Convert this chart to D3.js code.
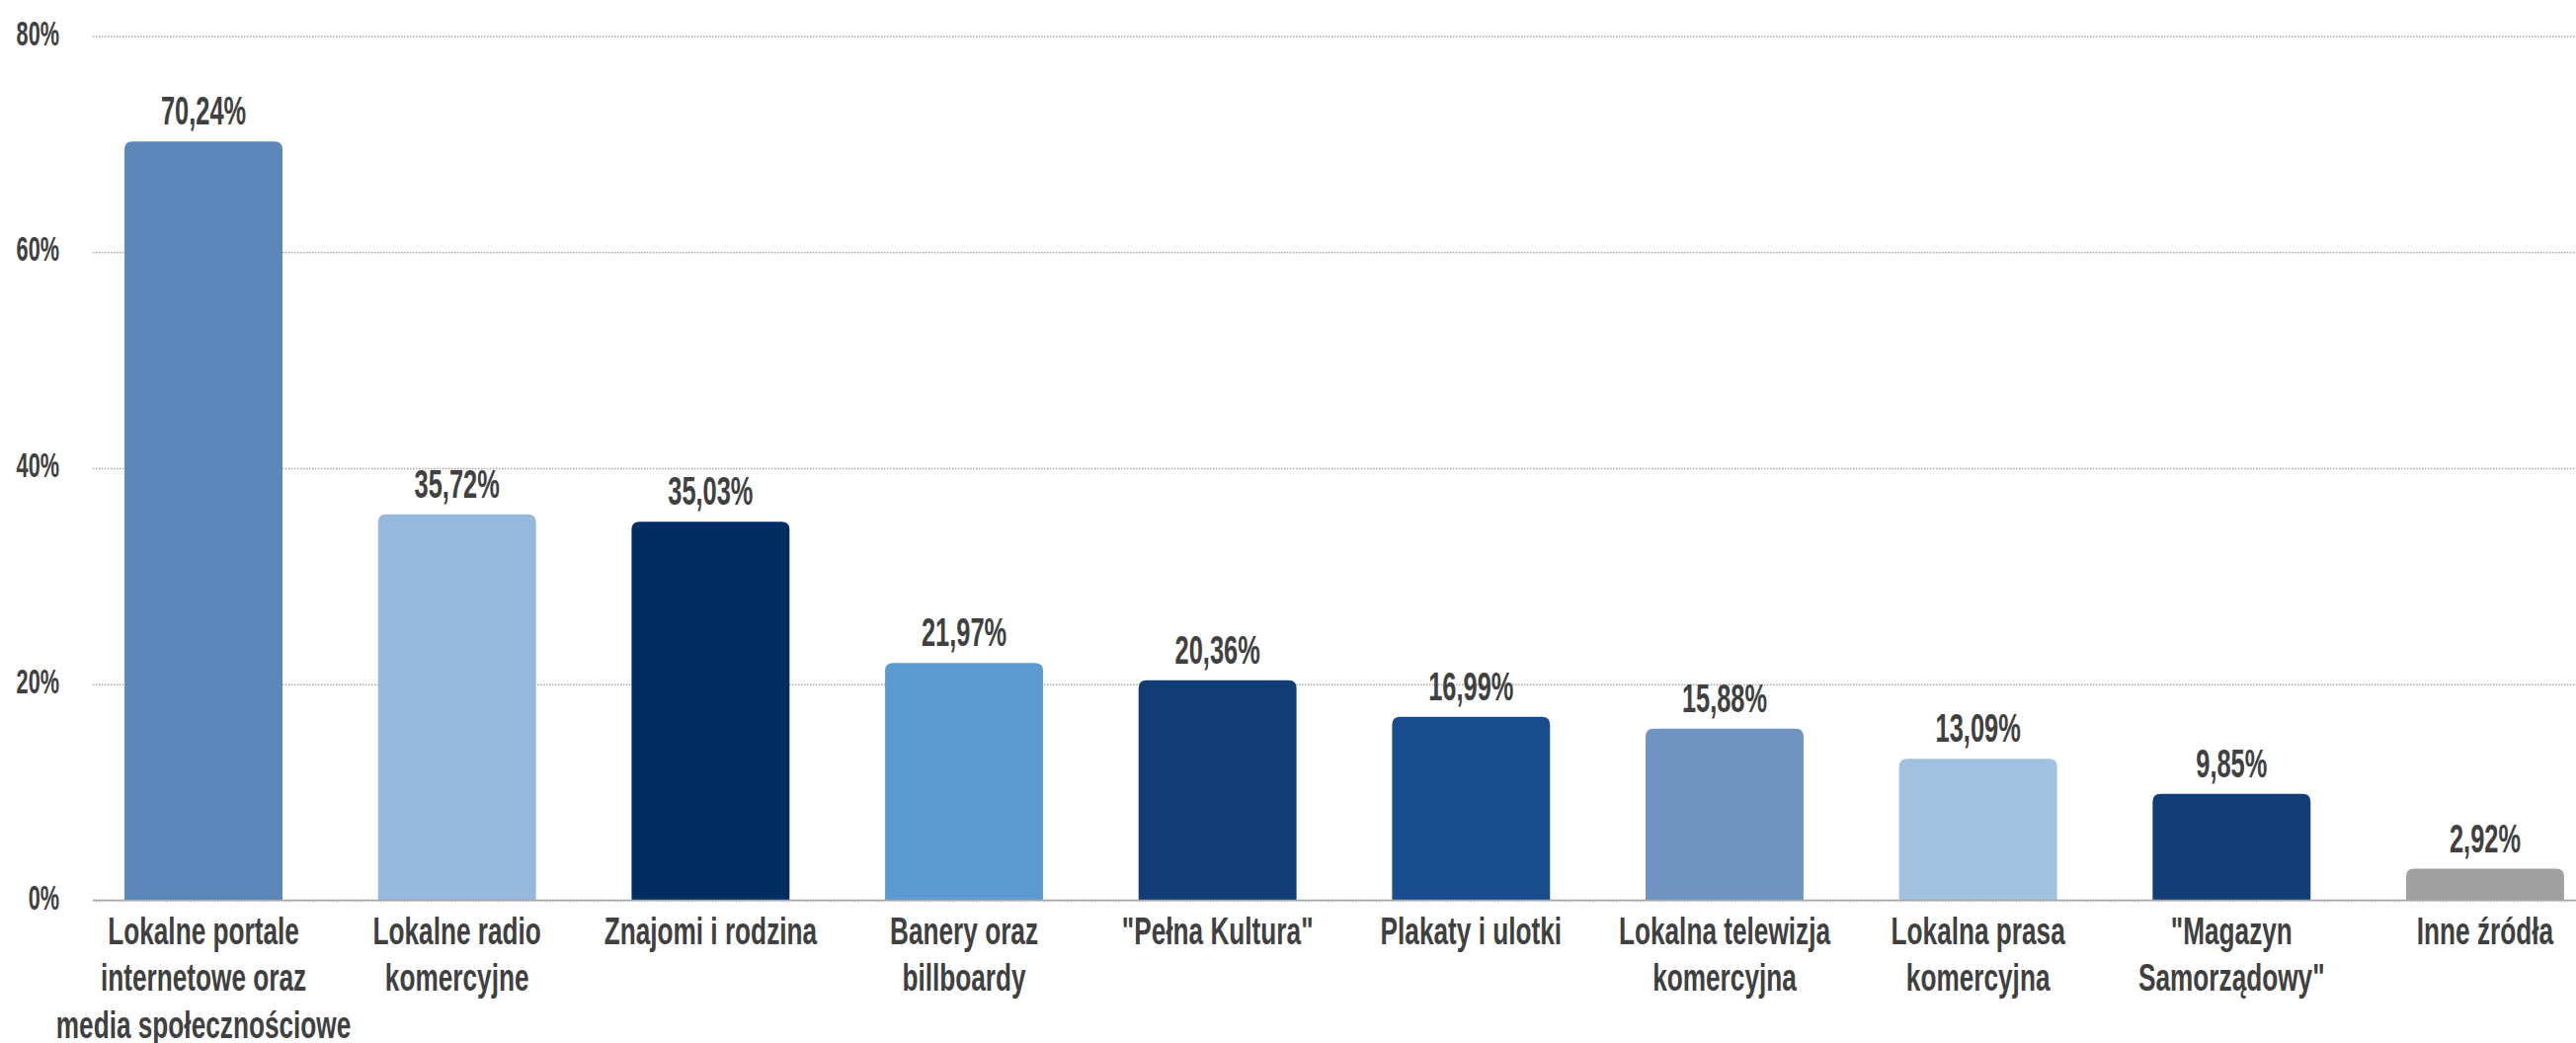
<!DOCTYPE html>
<html>
<head>
<meta charset="utf-8">
<script src="https://cdn.jsdelivr.net/npm/d3@7"></script>
<style>
  html, body { margin: 0; padding: 0; background: #ffffff; }
  svg { display: block; }
</style>
</head>
<body>
<svg id="chart" width="2608" height="1056"></svg>
<script>
// Sources of information about local events (share of respondents)
const categories = [
  "Lokalne portale\ninternetowe oraz\nmedia społecznościowe",
  "Lokalne radio\nkomercyjne",
  "Znajomi i rodzina",
  "Banery oraz\nbillboardy",
  "\"Pełna Kultura\"",
  "Plakaty i ulotki",
  "Lokalna telewizja\nkomercyjna",
  "Lokalna prasa\nkomercyjna",
  "\"Magazyn\nSamorządowy\"",
  "Inne źródła"
];
const values = [70.24, 35.72, 35.03, 21.97, 20.36, 16.99, 15.88, 13.09, 9.85, 2.92];
const barColors = ["#5b87ba", "#95b8dc", "#002e63", "#5b9bd2", "#123d74",
                   "#174d8e", "#6f94c2", "#a0c2e0", "#133d75", "#a0a0a0"];
const yTicks = [0, 20, 40, 60, 80];

const W = 2608, H = 1056;
const svg = d3.select("#chart");
const textColor = "#404040";

// Pick a narrow font if available and set the horizontal condensing accordingly
function measure(family) {
  const t = svg.append("text").attr("font-family", family).attr("font-size", 100)
    .attr("font-weight", "bold").text("abcdefghijklmnop");
  const w = t.node().getComputedTextLength();
  t.remove();
  return w;
}
const narrowOK = Math.abs(measure('"Liberation Sans Narrow", monospace') - measure("monospace")) > 1;
const FONT = narrowOK ? '"Liberation Sans Narrow", "Liberation Sans", sans-serif'
                      : '"Liberation Sans", Arial, sans-serif';
const kNum = narrowOK ? 0.76 : 0.62;
const kTxt = narrowOK ? 0.84 : 0.69;

const plotLeft = 94, baseY = 911.5, topY = 36.5;

const x = d3.scaleBand()
  .domain(categories)
  .range([77.7, 2644.3])
  .paddingInner(0.377)
  .paddingOuter(0.1885);

const y = d3.scaleLinear().domain([0, 80]).range([baseY, topY]);

// Y axis with dotted gridlines
const yAxis = svg.append("g")
  .attr("transform", `translate(${plotLeft},0)`)
  .call(d3.axisLeft(y).tickValues(yTicks).tickSize(-(W - plotLeft)).tickFormat(d => d + "%"));
yAxis.select(".domain").remove();
yAxis.selectAll(".tick line")
  .attr("stroke", "#a8a8a8")
  .attr("stroke-width", 1.5)
  .attr("stroke-dasharray", "1.5,1.5");
yAxis.selectAll(".tick text")
  .attr("x", 0).attr("dy", null).attr("y", 8.5)
  .attr("transform", `translate(-34,0) scale(${kNum},1)`)
  .attr("text-anchor", "end")
  .attr("font-family", FONT).attr("font-weight", "bold").attr("font-size", 35)
  .attr("fill", textColor);

// Bars with rounded top corners
const r = 8;
function barPath(x0, w, yTop, yBottom) {
  const rr = Math.min(r, (yBottom - yTop), w / 2);
  return `M${x0},${yBottom}V${yTop + rr}Q${x0},${yTop} ${x0 + rr},${yTop}` +
         `H${x0 + w - rr}Q${x0 + w},${yTop} ${x0 + w},${yTop + rr}V${yBottom}Z`;
}
svg.append("g").selectAll("path")
  .data(values)
  .join("path")
  .attr("d", (v, i) => barPath(x(categories[i]), x.bandwidth(), y(v), y(0)))
  .attr("fill", (v, i) => barColors[i]);

// Value labels
const fmt = v => d3.format(".2f")(v).replace(".", ",") + "%";
svg.append("g").selectAll("text")
  .data(values)
  .join("text")
  .attr("transform", (v, i) => `translate(${x(categories[i]) + x.bandwidth() / 2},${y(v) - 17}) scale(${kNum},1)`)
  .attr("text-anchor", "middle")
  .attr("font-family", FONT).attr("font-weight", "bold").attr("font-size", 41)
  .attr("fill", textColor)
  .text(fmt);

// Category axis
const xAxis = svg.append("g")
  .attr("transform", `translate(0,${baseY})`)
  .call(d3.axisBottom(x).tickSize(0));
xAxis.select(".domain").remove();
xAxis.selectAll(".tick text").each(function(d) {
  const t = d3.select(this);
  t.text(null)
    .attr("y", 0).attr("dy", null)
    .attr("transform", `translate(0,44) scale(${kTxt},1)`)
    .attr("text-anchor", "middle")
    .attr("font-family", FONT).attr("font-weight", "bold").attr("font-size", 38)
    .attr("fill", textColor);
  d.split("\n").forEach((line, j) => {
    t.append("tspan").attr("x", 0).attr("y", j * 48).text(line);
  });
});

// Baseline
svg.append("line")
  .attr("x1", plotLeft).attr("x2", W)
  .attr("y1", y(0)).attr("y2", y(0))
  .attr("stroke", "#a6a6a6").attr("stroke-width", 1.5);
</script>
</body>
</html>
